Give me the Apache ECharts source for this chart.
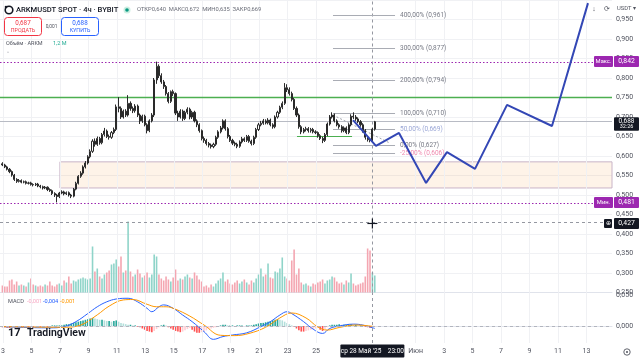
<!DOCTYPE html>
<html><head><meta charset="utf-8">
<script src="https://cdn.jsdelivr.net/npm/echarts@6/dist/echarts.min.js"></script>
<style>html,body{margin:0;padding:0;background:#fff;}#c{width:640px;height:360px;}</style>
</head><body><div id="c"></div>
<script>
// ---- 4h candles, first candle = May 2 23:00 ----
const opens = [.580,.577,.572,.566,.560,.551,.540,.535,.537,.533,
.534,.530,.531,.527,.526,.528,.523,.521,.518,.520,
.514,.511,.504,.500,.496,.505,.508,.503,.506,.500,
.497,.515,.530,.548,.556,.572,.582,.598,.612,.638,
.630,.645,.634,.655,.664,.650,.648,.660,.668,.726,
.722,.700,.715,.705,.735,.722,.716,.728,.705,.690,
.702,.680,.665,.690,.705,.795,.830,.806,.790,.778,
.760,.740,.765,.760,.710,.700,.715,.696,.712,.720,
.700,.712,.690,.680,.665,.645,.640,.632,.628,.624,
.630,.648,.662,.672,.690,.670,.650,.640,.633,.630,
.625,.636,.644,.640,.650,.638,.632,.648,.668,.680,
.684,.690,.685,.692,.680,.675,.700,.712,.725,.735,
.775,.770,.760,.745,.722,.705,.675,.662,.668,.670,
.665,.668,.662,.660,.652,.645,.640,.655,.682,.700,
.705,.690,.680,.675,.665,.672,.660,.680,.702,.700,
.695,.688,.680,.665,.648,.642,.640,.669];
const closes = [.577,.572,.566,.560,.551,.540,.535,.537,.533,.534,
.530,.531,.527,.526,.528,.523,.521,.518,.520,.514,
.511,.504,.500,.496,.505,.508,.503,.506,.500,.497,
.515,.530,.548,.556,.572,.582,.598,.612,.638,.630,
.645,.634,.655,.664,.650,.648,.660,.668,.726,.722,
.700,.715,.705,.735,.722,.716,.728,.705,.690,.702,
.680,.665,.690,.705,.795,.830,.806,.790,.778,.760,
.740,.765,.760,.710,.700,.715,.696,.712,.720,.700,
.712,.690,.680,.665,.645,.640,.632,.628,.624,.630,
.648,.662,.672,.690,.670,.650,.640,.633,.630,.625,
.636,.644,.640,.650,.638,.632,.648,.668,.680,.684,
.690,.685,.692,.680,.675,.700,.712,.725,.735,.775,
.770,.760,.745,.722,.705,.675,.662,.668,.670,.665,
.668,.662,.660,.652,.645,.640,.655,.682,.700,.705,
.690,.680,.675,.665,.672,.660,.680,.702,.700,.695,
.688,.680,.665,.648,.642,.640,.669,.688];
const highs = [.584,.580,.575,.569,.563,.554,.543,.541,.540,.537,
.537,.534,.534,.530,.531,.531,.526,.524,.523,.522,
.517,.514,.507,.503,.508,.512,.511,.509,.509,.503,
.518,.534,.551,.561,.576,.587,.602,.617,.643,.645,
.650,.649,.659,.672,.668,.655,.664,.673,.732,.751,
.727,.719,.720,.756,.740,.727,.733,.732,.709,.706,
.706,.684,.694,.710,.800,.842,.835,.812,.795,.782,
.764,.768,.770,.763,.716,.720,.719,.716,.725,.724,
.716,.716,.694,.684,.668,.650,.644,.636,.632,.634,
.652,.666,.677,.694,.694,.674,.654,.644,.637,.634,
.640,.649,.648,.654,.654,.642,.652,.672,.685,.690,
.695,.694,.697,.696,.684,.704,.716,.729,.740,.787,
.784,.776,.765,.749,.727,.709,.679,.672,.675,.674,
.672,.672,.666,.663,.656,.649,.659,.686,.705,.712,
.709,.694,.684,.679,.676,.676,.684,.707,.712,.705,
.699,.692,.684,.669,.652,.646,.672,.690];
const lows = [.574,.569,.563,.556,.547,.536,.531,.532,.530,.530,
.527,.527,.524,.522,.523,.520,.517,.514,.515,.510,
.508,.500,.495,.481,.492,.502,.499,.500,.496,.492,
.494,.512,.527,.544,.552,.568,.578,.594,.608,.624,
.626,.629,.630,.650,.646,.642,.644,.656,.664,.712,
.695,.696,.700,.701,.716,.710,.711,.700,.682,.685,
.676,.658,.661,.686,.700,.785,.800,.785,.772,.755,
.735,.736,.754,.705,.690,.696,.690,.692,.707,.694,
.695,.686,.674,.660,.640,.634,.627,.622,.619,.620,
.626,.644,.658,.668,.665,.645,.636,.628,.625,.620,
.621,.632,.636,.636,.634,.627,.628,.644,.664,.676,
.680,.681,.681,.676,.670,.671,.696,.708,.720,.731,
.764,.755,.740,.718,.700,.670,.656,.658,.663,.660,
.660,.658,.656,.647,.641,.633,.636,.651,.678,.696,
.686,.676,.670,.660,.661,.656,.656,.676,.695,.690,
.684,.675,.660,.642,.637,.635,.635,.665];
// volume, millions ARKM
const volumes = [0.49,0.42,0.42,0.84,0.91,0.56,0.77,0.49,0.56,0.49,
0.42,0.70,0.98,0.56,0.49,0.42,0.49,0.42,0.56,0.49,
0.77,0.49,0.42,0.56,0.63,0.49,0.84,0.70,1.12,0.63,
0.84,0.77,0.91,0.98,1.05,0.98,0.91,0.98,3.22,1.47,
1.68,1.12,0.98,1.26,1.40,1.54,1.96,2.03,2.31,1.82,
2.52,1.40,1.54,4.97,1.47,1.12,1.26,1.61,1.33,1.05,
1.19,1.40,1.05,1.26,2.66,2.52,1.26,0.98,0.84,1.12,
0.91,0.77,1.05,1.61,0.84,0.98,0.91,1.12,1.26,1.05,
0.98,1.40,1.19,0.91,0.77,0.42,0.49,0.35,0.56,0.42,
0.63,0.84,0.98,1.40,0.77,0.91,0.63,0.56,0.70,0.84,
0.63,0.77,0.91,0.70,0.56,0.84,0.70,0.98,1.26,1.68,
1.12,1.26,2.03,1.05,0.98,1.47,1.40,1.68,2.45,1.12,
0.98,0.84,2.24,3.01,1.26,1.68,0.70,0.56,0.63,0.49,
0.42,0.63,0.56,0.70,0.77,0.91,0.63,0.84,0.91,1.12,
1.05,0.77,0.63,0.70,0.56,0.84,0.70,1.33,0.63,0.49,
0.56,0.63,0.70,1.12,3.08,2.94,1.40,1.19];
// MACD histogram, in 0.001
const histogram = [-2,-2,-3,-3,-2,-2,-1,-1,-1,-1,
-1,-1,0,-1,0,-1,-1,0,0,-1,
0,1,1,1,1,1,2,3,3,4,
5,6,7,8,9,10,11,12,13,12,
11,10,10,9,8,8,7,8,9,7,
5,4,3,2,2,1,1,-1,-2,-4,
-6,-8,-9,-10,-8,-5,-2,1,2,1,
-2,-4,-6,-8,-9,-10,-9,-7,-5,-3,
-6,-9,-11,-11,-10,-9,-7,-5,-4,-3,
-2,-1,1,2,2,1,1,1,0,1,
1,1,0,1,1,1,2,3,4,5,
5,6,7,8,9,10,11,10,9,7,
5,3,1,-1,-4,-7,-9,-9,-8,-7,
-6,-5,-4,-3,-6,-8,-5,-2,1,2,
2,2,3,2,2,2,3,3,2,2,
1,1,0,-1,-2,-3,-2,-1];
// MACD line and signal, sampled at candle indices
const macdIdx = [0,7,20,26,31,36,40,44,48,53,57,61,63,66,68,72,76,80,85,89,93,97,103,109,113,117,120,122,127,131,135,138,142,148,152,157];
const macdVals = [-0.001,-0.002,-0.003,-0.001,0.007,0.020,0.031,0.039,0.0435,0.0447,0.039,0.0285,0.023,0.031,0.034,0.0285,0.0177,0.007,-0.009,-0.0215,-0.017,-0.0145,-0.011,-0.001,0.007,0.0177,0.023,0.020,0.007,-0.005,-0.012,-0.004,0,0.003,0.0015,-0.004];
const signalIdx = [0,26,33,40,45,51,55,61,65,69,73,79,85,92,98,104,111,117,122,128,133,137,142,149,157];
const signalVals = [-0.001,-0.002,0.0015,0.018,0.032,0.042,0.0427,0.035,0.031,0.031,0.027,0.016,0.0016,-0.015,-0.0155,-0.012,-0.002,0.013,0.021,0.013,-0.0016,-0.0065,-0.0024,0.0016,-0.001];
// forecast path (days since May 1, price)
const forecastDays = [26.60,28.21,29.83,31.73,33.20,35.17,37.42,40.58,43.11];
const forecastPrices = [0.692,0.626,0.659,0.531,0.610,0.567,0.731,0.677,0.992];
// fib extension
const fibLabels = ['400,00%','300,00%','200,00%','100,00%','50,00%','0,00%','-25,00%'];
const fibPrices = [0.961,0.877,0.794,0.710,0.669,0.627,0.606];
const fibColors = ['#787b86','#787b86','#787b86','#787b86','#9aa6d6','#787b86','#f08bb0'];
const fibStart = 25.19, fibEnd = 29.55;
// levels
const maxPrice = 0.842, minPrice = 0.481, lastPrice = 0.688, crossPrice = 0.427;
const greenLevel = 0.75;
const zone = [6.0, 0.585, 0.518];
const supportLine = [22.66, 26.53, 0.651];
const trendDash = [25.19, 0.705, 29.2, 0.633];
const crossDay = 27 + 23/24;
// time axis ticks (days since May 1)
const tickDays = [2,4,6,8,10,12,14,16,18,20,22,24,31,33,35,37,39,41,43];
const tickLabels = ['3','5','7','9','11','13','15','17','19','21','23','25','Июн','3','5','7','9','11','13'];

const FONT = 'Roboto, "Noto Sans", sans-serif';
const X_MIN = 1.7892, X_MAX = 44.797;
const candleDay = i => 2 - 1/24 + i/6;
const fmt3 = v => v.toFixed(3).replace('.', ',');

const chart = echarts.init(document.getElementById('c'), null, {width:640, height:360});

const candleData = opens.map((o,i)=>[candleDay(i), o, closes[i], lows[i], highs[i]]);
const volData = volumes.map((v,i)=>({value:[candleDay(i), v], itemStyle:{color: closes[i] >= opens[i] ? '#8fd4c9' : '#f4a6b1'}}));
const histData = histogram.map((h,i)=>{
  const p = i > 0 ? histogram[i-1] : h;
  let c;
  if (h >= 0) c = h >= p ? '#26a69a' : '#b2dfdb';
  else c = h <= p ? '#ff5252' : '#ffcdd2';
  return {value:[candleDay(i), h/1000], itemStyle:{color:c}};
});

const gridV = tickDays.map(d=>({xAxis:d, lineStyle:{color:'#f0f1f4', width:1, type:'solid'}}));
const seg = (a, b, style, label) => [
  {coord:a, lineStyle:style, label:label || {show:false}},
  {coord:b, lineStyle:style, label:label || {show:false}}
];
const mainLines = gridV.concat([
  {yAxis:maxPrice, lineStyle:{color:'#9c27b0', type:[1.5,2], width:1}},
  {yAxis:minPrice, lineStyle:{color:'#9c27b0', type:[1.5,2], width:1}},
  {yAxis:greenLevel, lineStyle:{color:'#4caf50', type:'solid', width:1.3}},
  {yAxis:lastPrice, lineStyle:{color:'#b8bbc4', type:'solid', width:1}},
  {yAxis:crossPrice, lineStyle:{color:'#9598a1', type:[3,3], width:1}},
  {xAxis:crossDay, lineStyle:{color:'#9598a1', type:[3,3], width:1}},
  seg([supportLine[0], supportLine[2]], [supportLine[1], supportLine[2]], {color:'#4caf50', width:1, type:'solid'}),
  seg([trendDash[0], trendDash[1]], [trendDash[2], trendDash[3]], {color:'#a0a3ab', width:1, type:[2,2]})
]).concat(fibPrices.map((p,k)=>seg([fibStart,p],[fibEnd,p],{color:'#a9acb4', width:1, type:'solid'},
  {show:true, position:'end', distance:5, formatter: fibLabels[k] + ' (' + fmt3(p) + ')', color: fibColors[k], fontSize:6.5, fontFamily:FONT})));

const option = {
  animation:false,
  backgroundColor:'#ffffff',
  grid:[
    {left:0, right:28, top:0, height:292.5, outerBoundsMode:'none'},
    {left:0, right:28, top:199.6, height:92.9, outerBoundsMode:'none'},
    {left:0, right:28, top:292.5, bottom:17, outerBoundsMode:'none'}
  ],
  xAxis:[
    {type:'value', gridIndex:0, min:X_MIN, max:X_MAX, axisLine:{show:true, lineStyle:{color:'#e0e3eb'}}, axisTick:{show:false}, axisLabel:{show:false}, splitLine:{show:false}},
    {type:'value', gridIndex:1, min:X_MIN, max:X_MAX, show:false},
    {type:'value', gridIndex:2, min:X_MIN, max:X_MAX, axisLine:{show:true, lineStyle:{color:'#e0e3eb'}}, axisTick:{show:false}, splitLine:{show:false},
     axisLabel:{customValues:tickDays, margin:5, fontSize:7, color:'#50535e', fontFamily:FONT,
       formatter:v=>{const k = tickDays.indexOf(Math.round(v)); return k >= 0 ? tickLabels[k] : '';}}}
  ],
  yAxis:[
    {type:'value', gridIndex:0, position:'right', min:0.25, max:1.0, interval:0.05,
     axisLine:{show:false}, axisTick:{show:false}, splitLine:{lineStyle:{color:'#f0f1f4'}},
     axisLabel:{margin:4, fontSize:7, color:'#50535e', fontFamily:FONT, formatter:v=> v > 0.999 ? '' : fmt3(v)}},
    {type:'value', gridIndex:1, min:0, max:6.5, show:false},
    {type:'value', gridIndex:2, position:'right', min:-0.0274, max:0.054,
     axisLine:{show:false}, axisTick:{show:false}, splitLine:{show:false},
     axisLabel:{customValues:[0, 0.05], margin:4, fontSize:7, color:'#50535e', fontFamily:FONT, formatter:v=>fmt3(v)}}
  ],
  series:[
    {type:'bar', xAxisIndex:1, yAxisIndex:1, data:volData, barWidth:1.6, z:1, silent:true},
    {type:'candlestick', xAxisIndex:0, yAxisIndex:0, data:candleData, encode:{x:0, y:[1,2,3,4]}, barWidth:1.6, z:5, silent:true,
     itemStyle:{color:'#ffffff', color0:'#2a2a2a', borderColor:'#2a2a2a', borderColor0:'#2a2a2a', borderWidth:1},
     markArea:{silent:true, itemStyle:{color:'rgba(245,124,0,0.09)', borderColor:'#c9b4c8', borderWidth:1},
       data:[[{xAxis:zone[0], yAxis:zone[1]},{xAxis:X_MAX, yAxis:zone[2]}]]},
     markLine:{silent:true, symbol:['none','none'], animation:false, label:{show:false}, data:mainLines}},
    {type:'line', xAxisIndex:0, yAxisIndex:0, data:forecastDays.map((d,k)=>[d, forecastPrices[k]]), showSymbol:false, z:6,
     lineStyle:{color:'#3347b5', width:2}, silent:true},
    {type:'bar', xAxisIndex:2, yAxisIndex:2, data:histData, barWidth:1.6, z:2, silent:true,
     markLine:{silent:true, symbol:['none','none'], label:{show:false}, data:gridV.concat([
       {yAxis:0, lineStyle:{color:'#b2b5be', type:[3,3], width:1}},
       {xAxis:crossDay, lineStyle:{color:'#9598a1', type:[3,3], width:1}}])}},
    {type:'line', xAxisIndex:2, yAxisIndex:2, data:macdIdx.map((k,j)=>[candleDay(k), macdVals[j]]), smooth:0.4, showSymbol:false, z:3,
     lineStyle:{color:'#2962ff', width:1}, silent:true},
    {type:'line', xAxisIndex:2, yAxisIndex:2, data:signalIdx.map((k,j)=>[candleDay(k), signalVals[j]]), smooth:0.4, showSymbol:false, z:3,
     lineStyle:{color:'#ff9800', width:1}, silent:true}
  ]
};
chart.setOption(option);

// ---- overlay texts / badges ----
const yPx = v => chart.convertToPixel({yAxisIndex:0}, v);
const xPx = d => chart.convertToPixel({xAxisIndex:0}, d);
const G = [];
const T = (x, y, text, size, fill, align, weight) => G.push({type:'text', x, y, z:100, silent:true,
  style:{text, fontSize:size, fontFamily:FONT, fill, textAlign:align || 'left', textVerticalAlign:'middle', fontWeight:weight || 'normal'}});
const R = (x, y, w, h, fill, stroke, r) => G.push({type:'rect', z:99, silent:true, shape:{x, y, width:w, height:h, r:r || 0},
  style:{fill:fill, stroke:stroke || null, lineWidth:1}});

// header
G.push({type:'circle', z:100, shape:{cx:9, cy:10, r:3.8}, style:{fill:'none', stroke:'#131722', lineWidth:1.6}});
G.push({type:'circle', z:100, shape:{cx:6, cy:7, r:1.3}, style:{fill:'#131722'}});
T(16, 10, 'ARKMUSDT SPOT · 4ч · BYBIT', 7.6, '#131722', 'left', 500);
G.push({type:'circle', z:100, shape:{cx:127, cy:10, r:3.5}, style:{fill:'#cdeee2'}});
G.push({type:'circle', z:100, shape:{cx:127, cy:10, r:1.8}, style:{fill:'#089981'}});
T(137, 10, 'ОТКР0,640  МАКС0,672  МИН0,635  ЗАКР0,669', 5.8, '#6a6d78');
R(4.5, 17.5, 37, 18, '#ffffff', '#f23645', 3);
T(23, 23, '0,687', 6.3, '#f23645', 'center');
T(23, 30.5, 'ПРОДАТЬ', 5.3, '#f23645', 'center');
T(51.5, 27, '0,001', 4.8, '#50535e', 'center');
R(61.5, 17.5, 37, 18, '#ffffff', '#2962ff', 3);
T(80, 23, '0,688', 6.3, '#2962ff', 'center');
T(80, 30.5, 'КУПИТЬ', 5.3, '#2962ff', 'center');
T(6, 43.5, 'Объём · ARKM', 5.5, '#50535e');
T(53, 43.5, '1,2 M', 5.5, '#22ab94');
T(8, 55, '˄', 7, '#787b86', 'center');
// toolbar
T(594, 9, '↓', 7, '#50535e', 'center');
T(607, 9, '⟳', 7, '#50535e', 'center');
T(617, 9, 'USDT ▾', 5.8, '#50535e');
// MACD legend & logo
T(8, 302, 'MACD', 5.6, '#50535e');
T(27, 302, '-0,001', 5.6, '#f7a9c4');
T(43, 302, '-0,004', 5.6, '#2962ff');
T(60, 302, '-0,001', 5.6, '#ff9800');
T(8, 333, '17', 11, '#131722', 'left', 'bold');
T(27, 333, 'TradingView', 10.5, '#131722', 'left', 600);
// badges
const yMax = yPx(maxPrice), yMin = yPx(minPrice), yLast = yPx(lastPrice), yCross = yPx(crossPrice);
R(594, yMax - 5.5, 19, 11, '#9c27b0', null, 1); T(603.5, yMax, 'Макс.', 5.8, '#ffffff', 'center');
R(614, yMax - 5.5, 25, 11, '#9c27b0', null, 1); T(626.5, yMax, fmt3(maxPrice), 6.8, '#ffffff', 'center');
R(594, yMin - 5.5, 19, 11, '#9c27b0', null, 1); T(603.5, yMin, 'Мин.', 5.8, '#ffffff', 'center');
R(614, yMin - 5.5, 25, 11, '#9c27b0', null, 1); T(626.5, yMin, fmt3(minPrice), 6.8, '#ffffff', 'center');
R(614, yLast - 4.5, 25, 13.5, '#131722', null, 1);
T(626.5, yLast - 0.5, fmt3(lastPrice), 6.5, '#ffffff', 'center');
T(626.5, yLast + 5, '32:26', 5.5, '#ffffff', 'center');
R(604, yCross - 4.5, 8, 9, '#131722', null, 1); T(608, yCross, '⊕', 6, '#ffffff', 'center');
R(614, yCross - 5.5, 25, 11, '#131722', null, 1); T(626.5, yCross, fmt3(crossPrice), 6.8, '#ffffff', 'center');
// crosshair time label + cursor
const xc = xPx(crossDay);
R(xc - 32, 344.5, 64, 13, '#131722', null, 1);
T(xc, 351, "ср 28 Май '25    23:00", 6.5, '#ffffff', 'center');
G.push({type:'line', z:101, shape:{x1:xc - 5, y1:yCross, x2:xc + 5, y2:yCross}, style:{stroke:'#131722', lineWidth:1.2}});
G.push({type:'line', z:101, shape:{x1:xc, y1:yCross - 5, x2:xc, y2:yCross + 5}, style:{stroke:'#131722', lineWidth:1.2}});
// settings icon
G.push({type:'circle', z:100, shape:{cx:627, cy:352, r:3.2}, style:{fill:'none', stroke:'#50535e', lineWidth:0.9}});
G.push({type:'circle', z:100, shape:{cx:627, cy:352, r:1}, style:{fill:'#50535e'}});

chart.setOption({graphic:G});
</script></body></html>
